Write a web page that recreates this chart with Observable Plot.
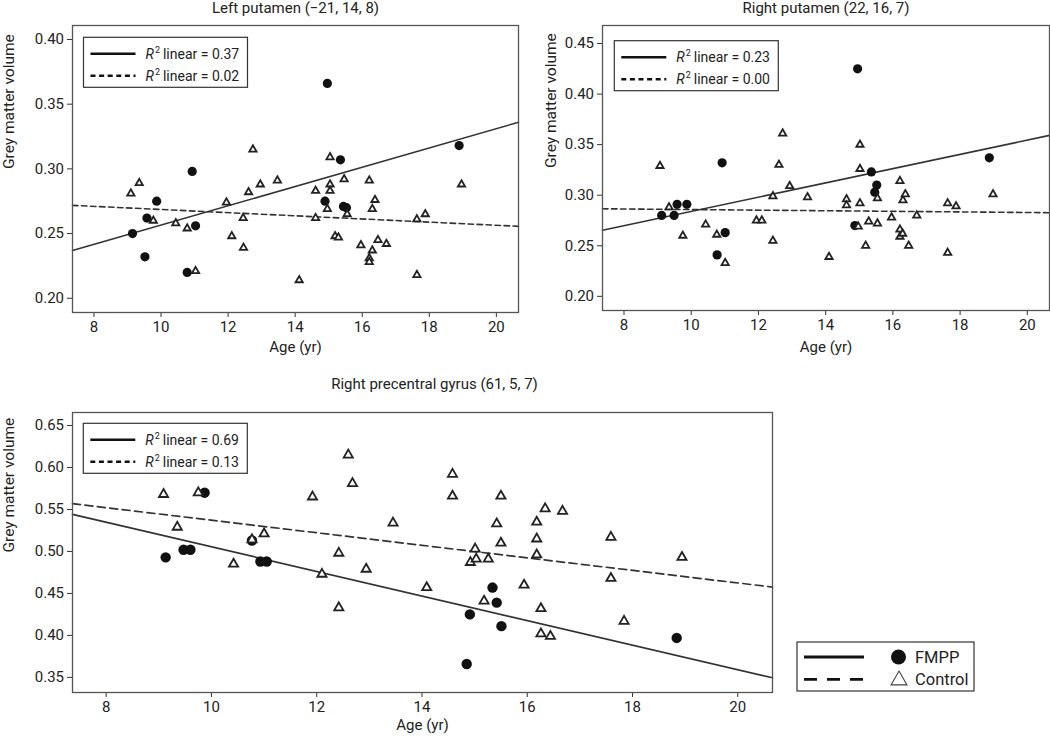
<!DOCTYPE html>
<html><head><meta charset="utf-8">
<script src="https://cdn.jsdelivr.net/npm/d3@7"></script>
<script src="https://cdn.jsdelivr.net/npm/@observablehq/plot@0.6"></script>
<style>
body{margin:0;background:#fff;}
#chart{position:relative;width:1050px;height:739px;}
.panel{position:absolute;}
</style></head><body><div id="chart"></div>
<script>
// ---------- data ----------
const ageTicks = [8, 10, 12, 14, 16, 18, 20];
const ageDomain = [7.36, 20.66];
const groups = ["FMPP", "Control"];
const titles = ["Left putamen (\u221221, 14, 8)", "Right putamen (22, 16, 7)", "Right precentral gyrus (61, 5, 7)"];
const xLabel = "Age (yr)";
const yLabel = "Grey matter volume";

// Left putamen
const lpFmppAge = [9.15, 9.52, 9.58, 9.87, 10.78, 10.93, 11.03, 14.89, 14.96, 15.35, 15.44, 15.53, 18.89];
const lpFmppVol = [0.250, 0.232, 0.262, 0.275, 0.220, 0.298, 0.256, 0.275, 0.366, 0.307, 0.271, 0.270, 0.318];
const lpCtrlAge = [9.10, 9.35, 9.77, 10.44, 10.78, 11.03, 11.95, 12.11, 12.45, 12.46, 12.61, 12.74, 12.96, 13.47, 14.12, 14.61, 14.61, 14.96, 15.04, 15.04, 15.04, 15.19, 15.29, 15.46, 15.55, 15.96, 16.21, 16.21, 16.21, 16.30, 16.30, 16.38, 16.47, 16.72, 17.63, 17.63, 17.88, 18.96];
const lpCtrlVol = [0.281, 0.289, 0.260, 0.258, 0.254, 0.221, 0.274, 0.248, 0.262, 0.239, 0.282, 0.315, 0.288, 0.291, 0.214, 0.283, 0.262, 0.269, 0.309, 0.288, 0.283, 0.248, 0.247, 0.292, 0.265, 0.241, 0.291, 0.231, 0.228, 0.269, 0.237, 0.276, 0.245, 0.242, 0.261, 0.218, 0.265, 0.288];
const lpFitFmpp = [0.1821, 0.00745];   // intercept, slope
const lpFitCtrl = [0.2808, -0.00122];
const lpR2 = ["0.37", "0.02"];
const lpTicks = [0.20, 0.25, 0.30, 0.35, 0.40];
const lpDomain = [0.189, 0.4108];

// Right putamen
const rpFmppAge = [9.12, 9.49, 9.58, 9.87, 10.77, 10.92, 11.01, 14.87, 14.95, 15.36, 15.46, 15.52, 18.87];
const rpFmppVol = [0.280, 0.280, 0.291, 0.291, 0.241, 0.332, 0.263, 0.270, 0.425, 0.323, 0.303, 0.310, 0.337];
const rpCtrlAge = [9.07, 9.34, 9.75, 10.43, 10.76, 11.01, 11.94, 12.10, 12.43, 12.43, 12.61, 12.72, 12.93, 13.46, 14.10, 14.62, 14.62, 14.97, 15.02, 15.02, 15.02, 15.19, 15.28, 15.54, 15.54, 15.96, 16.21, 16.21, 16.21, 16.29, 16.30, 16.37, 16.47, 16.71, 17.63, 17.63, 17.88, 18.98];
const rpCtrlVol = [0.329, 0.288, 0.260, 0.271, 0.261, 0.233, 0.275, 0.275, 0.299, 0.255, 0.330, 0.361, 0.309, 0.298, 0.239, 0.296, 0.290, 0.269, 0.326, 0.350, 0.292, 0.250, 0.274, 0.297, 0.272, 0.278, 0.314, 0.266, 0.259, 0.262, 0.295, 0.301, 0.250, 0.280, 0.292, 0.243, 0.289, 0.301];
const rpFitFmpp = [0.2135, 0.00705];
const rpFitCtrl = [0.2887, -0.00029];
const rpR2 = ["0.23", "0.00"];
const rpTicks = [0.20, 0.25, 0.30, 0.35, 0.40, 0.45];
const rpDomain = [0.186, 0.4678];

// Right precentral gyrus
const pgFmppAge = [9.13, 9.47, 9.60, 9.87, 10.77, 10.93, 11.05, 14.85, 14.91, 15.34, 15.42, 15.51, 18.84];
const pgFmppVol = [0.493, 0.502, 0.502, 0.570, 0.513, 0.488, 0.488, 0.366, 0.425, 0.457, 0.439, 0.411, 0.397];
const pgCtrlAge = [9.09, 9.35, 9.75, 10.42, 10.77, 11.00, 11.92, 12.10, 12.42, 12.42, 12.60, 12.68, 12.94, 13.45, 14.09, 14.58, 14.58, 14.92, 15.01, 15.03, 15.18, 15.26, 15.42, 15.50, 15.50, 15.94, 16.18, 16.18, 16.18, 16.26, 16.26, 16.34, 16.44, 16.67, 17.59, 17.59, 17.84, 18.94];
const pgCtrlVol = [0.568, 0.529, 0.570, 0.485, 0.514, 0.521, 0.565, 0.473, 0.498, 0.433, 0.615, 0.581, 0.479, 0.534, 0.457, 0.592, 0.566, 0.487, 0.503, 0.491, 0.441, 0.491, 0.533, 0.566, 0.510, 0.460, 0.535, 0.515, 0.496, 0.432, 0.402, 0.551, 0.399, 0.548, 0.517, 0.468, 0.417, 0.493];
const pgFitFmpp = [0.6518, -0.01463];
const pgFitCtrl = [0.6119, -0.00747];
const pgR2 = ["0.69", "0.13"];
const pgTicks = [0.35, 0.40, 0.45, 0.50, 0.55, 0.60, 0.65];
const pgDomain = [0.332, 0.6655];

// ---------- drawing ----------
const FONT = "Roboto, 'Liberation Sans', sans-serif";
const INK = "#222";

function rows(ages, vols) { return ages.map((a, i) => ({age: a, vol: vols[i]})); }
function fitRows(f) { return ageDomain.map(a => ({age: a, vol: f[0] + f[1] * a})); }

function addR2Legend(svg, p) {
  const g = d3.select(svg).append("g")
    .attr("transform", `translate(${p.ml + p.legX},${p.mt + p.legY})`)
    .attr("font-family", FONT).attr("fill", INK).attr("text-anchor", "start");
  g.append("rect").attr("width", 164).attr("height", 50)
    .attr("fill", "white").attr("stroke", "#333").attr("stroke-width", 1.2);
  p.r2.forEach((v, i) => {
    const y = 16.5 + i * 22;
    g.append("line").attr("x1", 7).attr("x2", 52).attr("y1", y).attr("y2", y)
      .attr("stroke", "#111").attr("stroke-width", 2.6)
      .attr("stroke-dasharray", i === 1 ? "5,3.6" : null);
    const t = g.append("text").attr("x", 62).attr("y", y + 5).attr("font-size", 14).attr("text-anchor", "start");
    t.append("tspan").attr("font-style", "italic").text("R");
    t.append("tspan").attr("dy", -6).attr("dx", 1).attr("font-size", 9).text("2");
    t.append("tspan").attr("dy", 6).attr("dx", 3).text("linear = " + v);
  });
}

function makePanel(p) {
  const svg = Plot.plot({
    width: p.w, height: p.h,
    marginLeft: p.ml, marginRight: p.mr, marginTop: p.mt, marginBottom: p.mb,
    style: {fontFamily: FONT, fontSize: "15px", color: INK, background: "transparent", overflow: "visible"},
    x: {domain: ageDomain},
    y: {domain: p.domain},
    marks: [
      Plot.axisX({ticks: ageTicks, tickSize: 5, tickPadding: 4, tickFormat: d => d, label: null, stroke: "#333"}),
      Plot.axisY({ticks: p.ticks, tickSize: 5, tickPadding: 3.5, tickFormat: d3.format(".2f"), label: null, stroke: "#333"}),
      Plot.line(fitRows(p.fitFmpp), {x: "age", y: "vol", stroke: "#333", strokeWidth: p.lw}),
      Plot.line(fitRows(p.fitCtrl), {x: "age", y: "vol", stroke: "#333", strokeWidth: p.lw, strokeDasharray: p.dash}),
      Plot.dot(rows(p.fAge, p.fVol), {x: "age", y: "vol", r: p.cr, fill: "#111"}),
      Plot.dot(rows(p.cAge, p.cVol), {x: "age", y: "vol", symbol: "triangle", r: p.tr, stroke: "#222", strokeWidth: 1.8, fill: "white"}),
      Plot.frame({stroke: "#555", strokeWidth: 1.3}),
      Plot.text([p.title], {text: d => d, frameAnchor: "top", dx: p.titleDx, dy: p.titleDy, lineAnchor: "bottom", fontSize: 15, fill: INK}),
      Plot.text([xLabel], {text: d => d, frameAnchor: "bottom", dy: p.xLabDy, lineAnchor: "bottom", fontSize: 15, fill: INK}),
      Plot.text([yLabel], {text: d => d, frameAnchor: "left", dx: p.yLabDx, rotate: -90, lineAnchor: "bottom", fontSize: 15.5, fill: INK})
    ]
  });
  addR2Legend(svg, p);
  const div = document.createElement("div");
  div.className = "panel";
  div.style.left = p.left + "px";
  div.style.top = p.top + "px";
  div.appendChild(svg);
  document.getElementById("chart").appendChild(div);
  return svg;
}

makePanel({left: 0, top: 0, w: 525, h: 360, ml: 72, mr: 7, mt: 25, mb: 48,
  domain: lpDomain, ticks: lpTicks, fAge: lpFmppAge, fVol: lpFmppVol, cAge: lpCtrlAge, cVol: lpCtrlVol,
  fitFmpp: lpFitFmpp, fitCtrl: lpFitCtrl, r2: lpR2, title: titles[0],
  titleDx: 0, titleDy: -12.5, xLabDy: 39, yLabDx: -59, legX: 11.5, legY: 12.3,
  cr: 4.6, tr: 2.7, lw: 1.6, dash: "5.5,3.5"});

makePanel({left: 525, top: 0, w: 525, h: 360, ml: 77, mr: 1, mt: 25, mb: 50,
  domain: rpDomain, ticks: rpTicks, fAge: rpFmppAge, fVol: rpFmppVol, cAge: rpCtrlAge, cVol: rpCtrlVol,
  fitFmpp: rpFitFmpp, fitCtrl: rpFitCtrl, r2: rpR2, title: titles[1],
  titleDx: 0, titleDy: -12.5, xLabDy: 41, yLabDx: -47, legX: 12.3, legY: 15.7,
  cr: 4.6, tr: 2.7, lw: 1.6, dash: "5.5,3.5"});

const pg = makePanel({left: 0, top: 360, w: 1050, h: 379, ml: 72, mr: 278, mt: 52, mb: 47,
  domain: pgDomain, ticks: pgTicks, fAge: pgFmppAge, fVol: pgFmppVol, cAge: pgCtrlAge, cVol: pgCtrlVol,
  fitFmpp: pgFitFmpp, fitCtrl: pgFitCtrl, r2: pgR2, title: titles[2],
  titleDx: 12, titleDy: -24, xLabDy: 37, yLabDx: -59, legX: 11.3, legY: 11.3,
  cr: 5.2, tr: 3.4, lw: 1.7, dash: "8,4.5"});

// group legend (bottom right)
{
  const g = d3.select(pg).append("g").attr("transform", "translate(797,282)")
    .attr("font-family", FONT).attr("fill", INK).attr("text-anchor", "start");
  g.append("rect").attr("width", 177).attr("height", 49)
    .attr("fill", "white").attr("stroke", "#333").attr("stroke-width", 1.2);
  groups.forEach((name, i) => {
    const y = 15 + i * 22.3;
    g.append("line").attr("x1", 7).attr("x2", 67).attr("y1", y).attr("y2", y)
      .attr("stroke", "#111").attr("stroke-width", 2.8)
      .attr("stroke-dasharray", i === 1 ? "13,10" : null);
    if (i === 0) {
      g.append("circle").attr("cx", 101.5).attr("cy", y).attr("r", 7.5).attr("fill", "#111");
    } else {
      g.append("path").attr("transform", `translate(102,${y + 1})`)
        .attr("d", d3.symbol(d3.symbolTriangle, 110)())
        .attr("fill", "white").attr("stroke", "#444").attr("stroke-width", 1.1);
    }
    g.append("text").attr("x", 118).attr("y", y + 5.5).attr("font-size", 16.5).attr("text-anchor", "start").text(name);
  });
}
</script></body></html>
